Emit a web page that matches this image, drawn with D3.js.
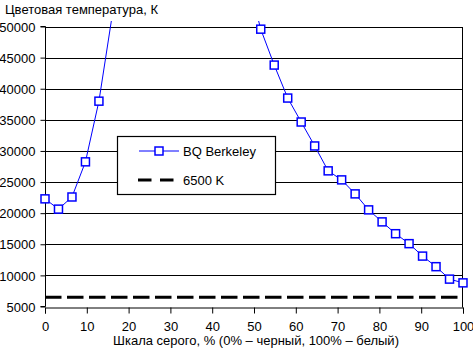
<!DOCTYPE html>
<html><head><meta charset="utf-8">
<script src="https://cdn.jsdelivr.net/npm/d3@7"></script>
<style>
body{margin:0;background:#fff;}
svg{display:block;font-family:"Liberation Sans",Arial,sans-serif;}
</style></head>
<body>
<svg id="c" width="473" height="349"></svg>
<script>
// Grey level steps (32 points, 0..100 %)
const grayIndex = d3.range(32);
const grayPercent = grayIndex.map(i => i * 100 / 31);
// Colour temperature, K (indices 5..15 are far above the plot and clipped; estimated)
const seriesBQ = [22300, 20650, 22600, 28250, 38000,
  52000, 60000, 68000, 74000, 78000, 80000, 76000, 70000, 65000, 61000, 58000,
  49570, 43800, 38500, 34650, 30800, 26800, 25350, 23100, 20530, 18600, 16700,
  15100, 13100, 11400, 9400, 8800];
const refValue = 6500;
const yTicks = [5000, 10000, 15000, 20000, 25000, 30000, 35000, 40000, 45000, 50000];
const xTicks = [0, 10, 20, 30, 40, 50, 60, 70, 80, 90, 100];
const seriesNames = ["BQ Berkeley", "6500 K"];
const yTitle = "Цветовая температура, К";
const xTitle = "Шкала серого, % (0% – черный, 100% – белый)";

const svg = d3.select("#c");
const x = d3.scaleLinear().domain([0, 100]).range([45, 463]);
const y = d3.scaleLinear().domain([5000, 50000]).range([306.5, 26.5]);
const FS = "13px";

// clip
svg.append("defs").append("clipPath").attr("id", "clip")
  .append("rect").attr("x", 38).attr("y", 21).attr("width", 435).attr("height", 290);

// gridlines
svg.append("g").selectAll("line").data(yTicks.filter(t => t > 5000)).join("line")
  .attr("x1", x(0)).attr("x2", x(100))
  .attr("y1", d => Math.round(y(d)) + 0.5).attr("y2", d => Math.round(y(d)) + 0.5)
  .attr("stroke", "#000").attr("stroke-width", 1);
// right border
svg.append("line").attr("x1", 462.5).attr("x2", 462.5)
  .attr("y1", Math.round(y(50000)) + 0.5).attr("y2", Math.round(y(5000)) + 0.5)
  .attr("stroke", "#000");

// axes
const yAxis = d3.axisLeft(y).tickValues(yTicks).tickSize(5).tickPadding(5).tickFormat(d3.format("d"));
const gy = svg.append("g").attr("transform", "translate(45.5,0)").call(yAxis);
const xAxis = d3.axisBottom(x).tickValues(xTicks).tickSize(6).tickPadding(8).tickFormat(d3.format("d"));
const gx = svg.append("g").attr("transform", `translate(0,${Math.round(y(5000)) + 0.5})`).call(xAxis);
[gx, gy].forEach(g => {
  g.select(".domain").attr("stroke", "#000");
  g.selectAll(".tick line").attr("stroke", "#000");
  g.selectAll("text").attr("fill", "#000").style("font-size", FS)
    .style("font-family", "'Liberation Sans',Arial,sans-serif");
});
gy.select(".domain").attr("d", `M-5,${y(50000)}H0V${y(5000)}H-5`);
gy.selectAll(".tick text").attr("x", -10).attr("dy", "0.36em");

// reference line 6500 K
const plot = svg.append("g").attr("clip-path", "url(#clip)");
plot.append("line").attr("x1", x(0)).attr("x2", x(100))
  .attr("y1", y(refValue)).attr("y2", y(refValue))
  .attr("stroke", "#000").attr("stroke-width", 3).attr("stroke-dasharray", "16.5,5.5");

// series line
const pts = grayIndex.map(i => [grayPercent[i], seriesBQ[i]]);
plot.append("path").datum(pts)
  .attr("d", d3.line().x(d => x(d[0])).y(d => y(d[1])))
  .attr("fill", "none").attr("stroke", "#0000ff").attr("stroke-width", 1);
plot.selectAll("rect.m").data(pts).join("rect").attr("class", "m")
  .attr("x", d => x(d[0]) - 4).attr("y", d => y(d[1]) - 4)
  .attr("width", 8).attr("height", 8)
  .attr("fill", "#fff").attr("stroke", "#0000ff").attr("stroke-width", 1.5);

// legend
const lg = svg.append("g");
lg.append("rect").attr("x", 117.5).attr("y", 136.5).attr("width", 158).attr("height", 58)
  .attr("fill", "#fff").attr("stroke", "#000").attr("stroke-width", 1.2);
lg.append("line").attr("x1", 139).attr("x2", 179).attr("y1", 151).attr("y2", 151)
  .attr("stroke", "#0000ff").attr("stroke-width", 1);
lg.append("rect").attr("x", 155).attr("y", 147).attr("width", 8).attr("height", 8)
  .attr("fill", "#fff").attr("stroke", "#0000ff").attr("stroke-width", 1.5);
lg.append("line").attr("x1", 138).attr("x2", 174).attr("y1", 180).attr("y2", 180)
  .attr("stroke", "#000").attr("stroke-width", 3).attr("stroke-dasharray", "13.5,8.5");
lg.selectAll("text").data(seriesNames).join("text")
  .attr("x", 183).attr("y", (d, i) => 151 + i * 29).attr("dy", "0.36em")
  .style("font-size", FS).text(d => d);

// titles
svg.append("text").attr("x", 5).attr("y", 14).style("font-size", FS).text(yTitle);
svg.append("text").attr("x", 256).attr("y", 345).attr("text-anchor", "middle")
  .style("font-size", FS).text(xTitle);
</script>
</body></html>
